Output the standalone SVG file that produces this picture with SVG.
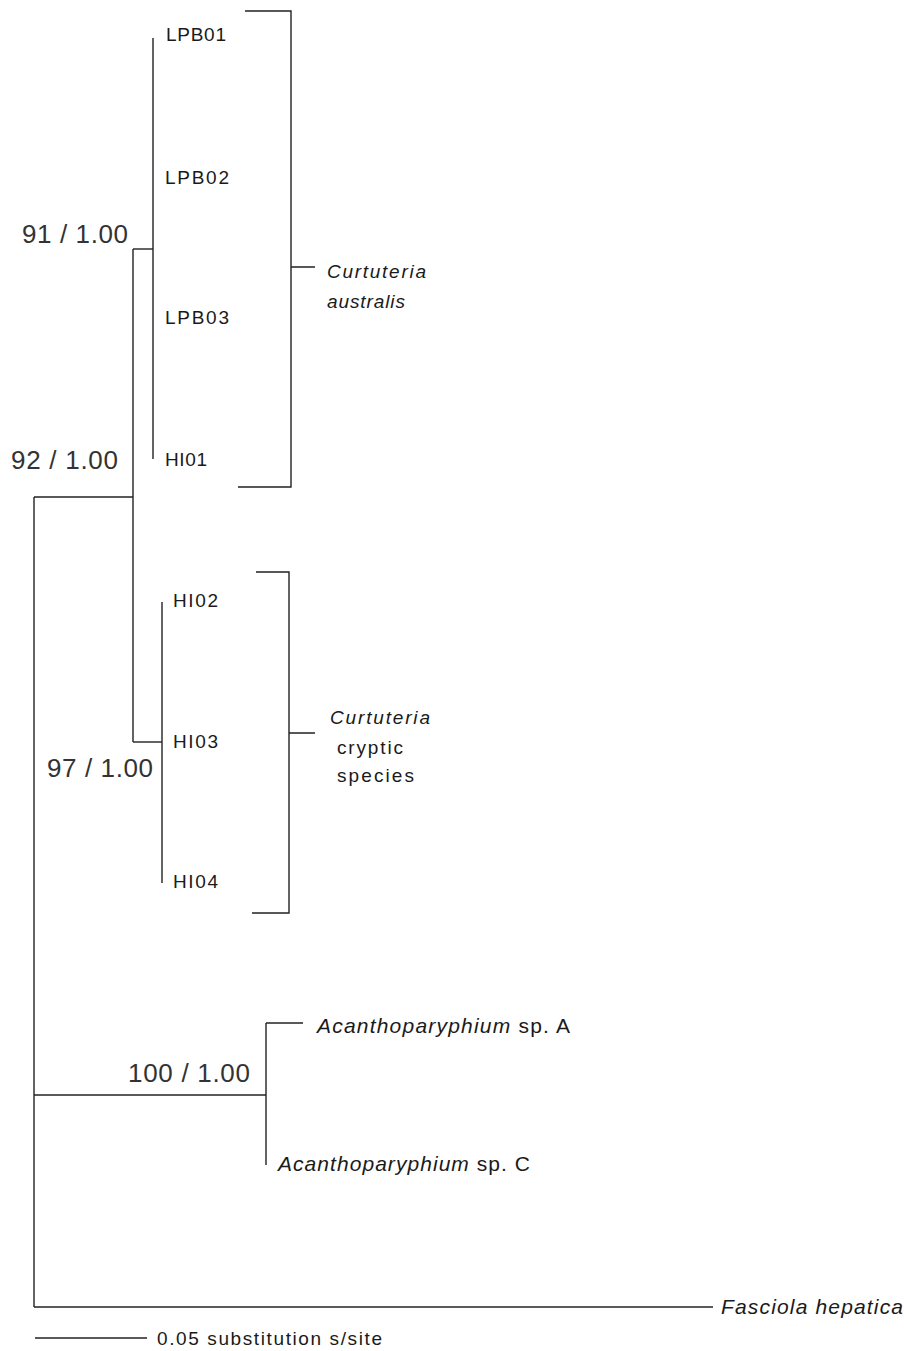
<svg xmlns="http://www.w3.org/2000/svg" width="904" height="1351" viewBox="0 0 904 1351">
<style>
.br{fill:none;stroke:#222;stroke-width:1.4}
text{font-family:"Liberation Sans",Arial,sans-serif;fill:#1a1a1a}
.tip{font-size:19px}
.sup{font-size:26px;fill:#333}
.big{font-size:21px}
.it{font-style:italic}
</style>
<rect width="904" height="1351" fill="#fff"/>
<g id="connectors" class="br">
<path d="M153 38V459"/>
<path d="M133 249H153"/>
<path d="M133 249V742"/>
<path d="M133 742H162"/>
<path d="M162 602V883"/>
<path d="M34 497H133"/>
<path d="M34 497V1307"/>
<path d="M34 1095H266"/>
<path d="M266 1023V1165"/>
<path d="M266 1023H303"/>
<path d="M34 1307H713"/>
</g>
<g id="tip-LPB01"><text class="tip" x="166" y="41" textLength="60" lengthAdjust="spacing">LPB01</text></g>
<g id="tip-LPB02"><text class="tip" x="165" y="184" textLength="64" lengthAdjust="spacing">LPB02</text></g>
<g id="tip-LPB03"><text class="tip" x="165" y="324" textLength="64" lengthAdjust="spacing">LPB03</text></g>
<g id="tip-HI01"><text class="tip" x="165" y="466" textLength="42" lengthAdjust="spacing">HI01</text></g>
<g id="tip-HI02"><text class="tip" x="173" y="607" textLength="45" lengthAdjust="spacing">HI02</text></g>
<g id="tip-HI03"><text class="tip" x="173" y="748" textLength="45" lengthAdjust="spacing">HI03</text></g>
<g id="tip-HI04"><text class="tip" x="173" y="888" textLength="45" lengthAdjust="spacing">HI04</text></g>
<g id="tip-acanthA"><text class="big" x="317" y="1033" textLength="253" lengthAdjust="spacing"><tspan class="it">Acanthoparyphium</tspan> sp. A</text></g>
<g id="tip-acanthC"><text class="big" x="278" y="1171" textLength="252" lengthAdjust="spacing"><tspan class="it">Acanthoparyphium</tspan> sp. C</text></g>
<g id="tip-fasciola"><text class="big it" x="721" y="1314" textLength="182" lengthAdjust="spacing">Fasciola hepatica</text></g>
<g id="support-91"><text class="sup" x="22" y="243" textLength="106" lengthAdjust="spacing">91 / 1.00</text></g>
<g id="support-92"><text class="sup" x="11" y="469" textLength="107" lengthAdjust="spacing">92 / 1.00</text></g>
<g id="support-97"><text class="sup" x="47" y="777" textLength="106" lengthAdjust="spacing">97 / 1.00</text></g>
<g id="support-100"><text class="sup" x="128" y="1082" textLength="122" lengthAdjust="spacing">100 / 1.00</text></g>
<g id="clade-australis">
<path class="br" d="M245 11H291V487H238M291 267H315"/>
<text class="tip it" x="327" y="278" textLength="99" lengthAdjust="spacing">Curtuteria</text>
<text class="tip it" x="327" y="308" textLength="78" lengthAdjust="spacing">australis</text>
</g>
<g id="clade-cryptic">
<path class="br" d="M256 572H289V913H252M289 733H315"/>
<text class="tip it" x="330" y="724" textLength="100" lengthAdjust="spacing">Curtuteria</text>
<text class="tip" x="337" y="754" textLength="66" lengthAdjust="spacing">cryptic</text>
<text class="tip" x="337" y="782" textLength="77" lengthAdjust="spacing">species</text>
</g>
<g id="scale-bar">
<path class="br" d="M35 1338H147"/>
<text class="tip" x="157" y="1345" textLength="225" lengthAdjust="spacing">0.05 substitution s/site</text>
</g>
</svg>
